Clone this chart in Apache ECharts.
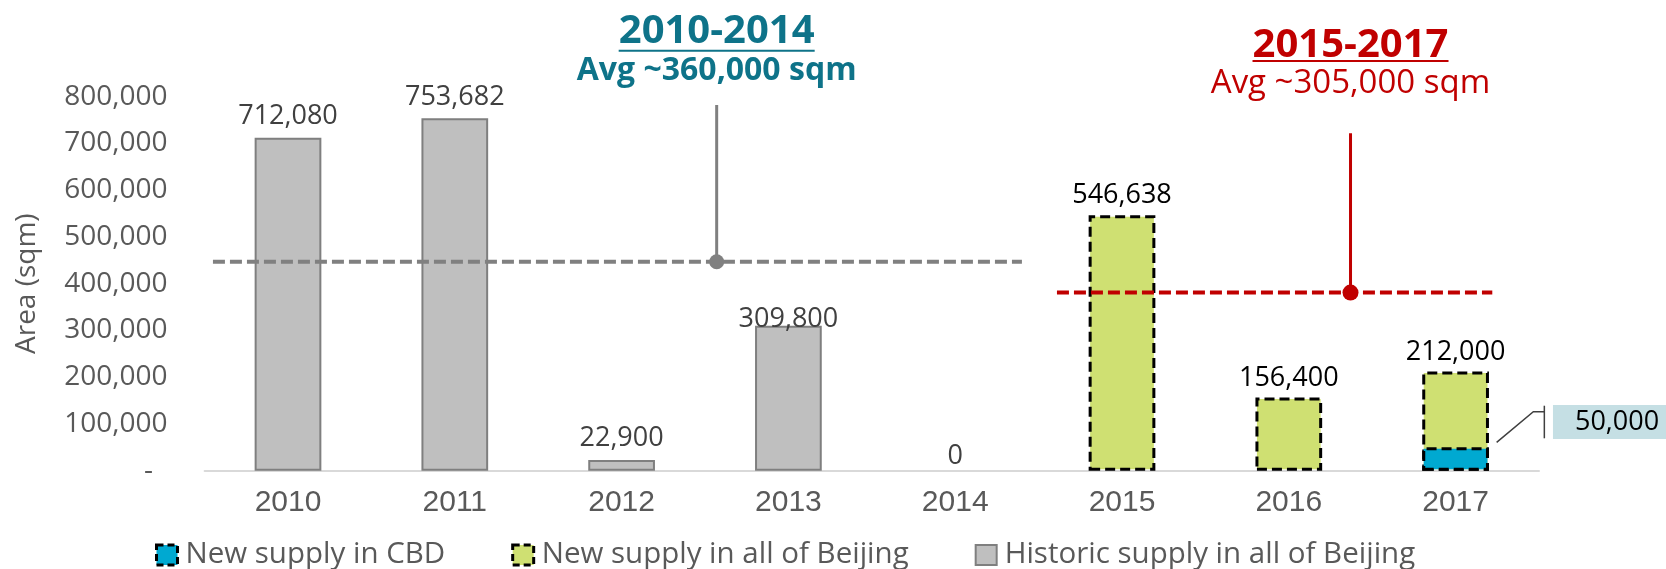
<!DOCTYPE html>
<html><head><meta charset="utf-8">
<script src="https://cdn.jsdelivr.net/npm/echarts@6/dist/echarts.min.js"></script>
<style>html,body{margin:0;padding:0;background:#fff}#c{width:1666px;height:569px}</style>
</head><body><div id="c"></div>
<script>
// ---- data ----
const years = ['2010', '2011', '2012', '2013', '2014', '2015', '2016', '2017'];
const historicSupply = [712080, 753682, 22900, 309800, 0, null, null, null];
const newSupplyBeijing = [null, null, null, null, null, 546638, 156400, 212000];
const newSupplyCBD = [null, null, null, null, null, null, null, 50000];
const yMin = 0, yMax = 800000, yInterval = 100000;
const legendNames = ['New supply in CBD', 'New supply in all of Beijing', 'Historic supply in all of Beijing'];
const period1Title = '2010-2014';
const period1Sub = 'Avg ~360,000 sqm';
const period2Title = '2015-2017';
const period2Sub = 'Avg ~305,000 sqm';
const period1LineLevel = 447000;   // gray dashed level as drawn
const period2LineLevel = 381000;   // red dashed level as drawn

// ---- annotation geometry / label tweaks (styling, not data) ----
const ann = {
  p1: { from: -0.45, to: 4.4, stem: 2.57, stemTop: 782000 },
  p2: { from: 4.61, to: 7.22, stem: 6.37, stemTop: 722000 }
};
const historicLabelOffset = { 3: [0, 15], 4: [0, 7] };

const fmt = v => (v === 0 ? '0' : Number(v).toLocaleString('en-US'));
const SEG = 'Open Sans';
const dash = [10, 5];

const historicItems = historicSupply.map((v, i) => {
  if (v === null) return null;
  const item = { value: v };
  if (v === 0) item.itemStyle = { borderWidth: 0 };
  if (historicLabelOffset[i]) item.label = { offset: historicLabelOffset[i] };
  return item;
});

const chart = echarts.init(document.getElementById('c'), null, { renderer: 'canvas' });

const option = {
  backgroundColor: '#ffffff',
  animation: false,
  grid: { left: 204.6, right: 127, top: 96.7, bottom: 98.3, containLabel: false, outerBoundsMode: 'none' },
  legend: {
    left: 150, top: 535, itemWidth: 21, itemHeight: 20, itemGap: 66,
    icon: 'rect',
    textStyle: { fontFamily: SEG, fontSize: 29.5, color: '#595959', padding: [0, 0, 0, 3] },
    data: [
      { name: legendNames[0], itemStyle: { color: '#00a9d1', borderColor: '#000', borderWidth: 3, borderType: [7, 4] } },
      { name: legendNames[1], itemStyle: { color: '#cfe072', borderColor: '#000', borderWidth: 3, borderType: [7, 4] } },
      { name: legendNames[2], itemStyle: { color: '#bfbfbf', borderColor: '#7f7f7f', borderWidth: 2 } }
    ]
  },
  xAxis: [
    {
      type: 'category', data: years,
      axisLine: { show: true, lineStyle: { color: '#d9d9d9', width: 2 } },
      axisTick: { show: false },
      axisLabel: { fontFamily: 'Liberation Sans', fontSize: 30, color: '#595959', margin: 17 },
      splitLine: { show: false }
    },
    { type: 'value', min: -0.5, max: 7.5, show: false }
  ],
  yAxis: {
    type: 'value', min: yMin, max: yMax, interval: yInterval,
    axisLine: { show: false }, axisTick: { show: false }, splitLine: { show: false },
    axisLabel: {
      fontFamily: SEG, fontSize: 28, color: '#595959', margin: 37,
      formatter: v => (v === 0 ? '-  ' : Number(v).toLocaleString('en-US'))
    },
    name: 'Area (sqm)', nameLocation: 'middle', nameGap: 164,
    nameTextStyle: { fontFamily: SEG, fontSize: 28, color: '#595959' }
  },
  series: [
    {
      name: legendNames[2], type: 'bar', data: historicItems, barWidth: '40%', barGap: '-100%',
      itemStyle: { color: '#bfbfbf', borderColor: '#7f7f7f', borderWidth: 2 },
      label: { show: true, position: 'top', distance: 8, fontFamily: SEG, fontSize: 27, color: '#404040', formatter: p => fmt(p.value) },
      z: 2
    },
    {
      name: legendNames[1], type: 'bar', data: newSupplyBeijing, barWidth: '40%', barGap: '-100%',
      itemStyle: { color: '#cfe072', borderColor: '#000', borderWidth: 3, borderType: dash },
      label: { show: true, position: 'top', distance: 6, fontFamily: SEG, fontSize: 27, color: '#000', formatter: p => fmt(p.value) },
      z: 2
    },
    {
      name: legendNames[0], type: 'bar', data: newSupplyCBD, barWidth: '40%', barGap: '-100%',
      itemStyle: { color: '#00a9d1', borderColor: '#000', borderWidth: 3, borderType: dash },
      label: {
        show: true, position: 'right', distance: 64, offset: [0, -37],
        fontFamily: SEG, fontSize: 27, lineHeight: 28, color: '#000',
        backgroundColor: '#c5dfe4', padding: [3, 40, 3, 22],
        formatter: p => fmt(p.value)
      },
      z: 3
    },
    {
      type: 'line', xAxisIndex: 1, silent: true, symbol: 'none', z: 5,
      data: [[ann.p1.from, period1LineLevel], [ann.p1.to, period1LineLevel]],
      lineStyle: { color: '#808080', width: 4, type: [12, 5] }
    },
    {
      type: 'line', xAxisIndex: 1, silent: true, z: 6,
      data: [
        { value: [ann.p1.stem, period1LineLevel], symbol: 'circle', symbolSize: 15 },
        { value: [ann.p1.stem, ann.p1.stemTop], symbol: 'none' }
      ],
      itemStyle: { color: '#808080' },
      lineStyle: { color: '#808080', width: 3 }
    },
    {
      type: 'line', xAxisIndex: 1, silent: true, symbol: 'none', z: 5,
      data: [[ann.p2.from, period2LineLevel], [ann.p2.to, period2LineLevel]],
      lineStyle: { color: '#c00000', width: 4, type: [12, 5] }
    },
    {
      type: 'line', xAxisIndex: 1, silent: true, z: 6,
      data: [
        { value: [ann.p2.stem, period2LineLevel], symbol: 'circle', symbolSize: 16 },
        { value: [ann.p2.stem, ann.p2.stemTop], symbol: 'none' }
      ],
      itemStyle: { color: '#c00000' },
      lineStyle: { color: '#c00000', width: 3 }
    }
  ]
};
chart.setOption(option);

// ---- titles and call-out leader drawn relative to the axes ----
const px = (x, y) => chart.convertToPixel({ xAxisIndex: 1, yAxisIndex: 0 }, [x, y]);
const x1 = px(ann.p1.stem, 0)[0];
const x2 = px(ann.p2.stem, 0)[0];
const lead = [px(7.246, 60750), px(7.466, 126200), px(7.532, 126200)];
const tickTop = px(7.532, 139000), tickBot = px(7.532, 69300);

function titleGroup(cx, yT, yU, yS, title, sub, color, subWeight, subSize) {
  return [
    { type: 'text', x: cx, y: yT, z: 10,
      style: { text: title, fill: color, font: 'bold 40px "Open Sans"', textAlign: 'center', textVerticalAlign: 'bottom' } },
    { type: 'line', z: 10, shape: { x1: cx - 98, y1: yU, x2: cx + 98, y2: yU }, style: { stroke: color, lineWidth: 2 } },
    { type: 'text', x: cx, y: yS, z: 10,
      style: { text: sub, fill: color, font: subWeight + ' ' + subSize + 'px "Open Sans"', textAlign: 'center', textVerticalAlign: 'bottom' } }
  ];
}

chart.setOption({
  graphic: [
    ...titleGroup(x1, 51.3, 50.7, 87, period1Title, period1Sub, '#0e7389', 'bold', 32),
    ...titleGroup(x2, 65.3, 61, 100.5, period2Title, period2Sub, '#c00000', 'normal', 33),
    { type: 'polyline', z: 10, shape: { points: lead }, style: { stroke: '#404040', lineWidth: 1.5, fill: null } },
    { type: 'line', z: 10, shape: { x1: tickTop[0], y1: tickTop[1], x2: tickBot[0], y2: tickBot[1] }, style: { stroke: '#404040', lineWidth: 1.5 } }
  ]
});
</script>
</body></html>
